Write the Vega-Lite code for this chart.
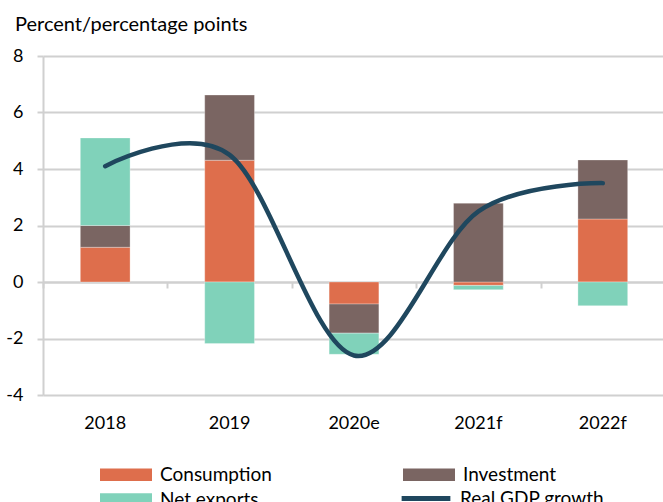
{
  "$schema": "https://vega.github.io/schema/vega-lite/v6.json",
  "width": 622,
  "height": 339,
  "autosize": {"type": "none"},
  "padding": {"left": 43, "top": 56, "right": 0, "bottom": 107},
  "config": {"font": "Lato", "view": {"stroke": null}},
  "title": {"text": "Percent/percentage points", "anchor": "start", "frame": "group", "dx": -28, "offset": 12, "fontSize": 20, "fontWeight": "normal", "color": "#000000"},
  "layer": [
    {
      "data": {"values": [
        {"year": "2018", "series": "Consumption", "value": 1.23},
        {"year": "2018", "series": "Investment", "value": 0.77},
        {"year": "2018", "series": "Net exports", "value": 3.1},
        {"year": "2019", "series": "Consumption", "value": 4.31},
        {"year": "2019", "series": "Investment", "value": 2.31},
        {"year": "2019", "series": "Net exports", "value": -2.18},
        {"year": "2020e", "series": "Consumption", "value": -0.78},
        {"year": "2020e", "series": "Investment", "value": -1.03},
        {"year": "2020e", "series": "Net exports", "value": -0.75},
        {"year": "2021f", "series": "Consumption", "value": -0.12},
        {"year": "2021f", "series": "Investment", "value": 2.79},
        {"year": "2021f", "series": "Net exports", "value": -0.15},
        {"year": "2022f", "series": "Consumption", "value": 2.23},
        {"year": "2022f", "series": "Investment", "value": 2.09},
        {"year": "2022f", "series": "Net exports", "value": -0.84}
      ]},
      "mark": {"type": "bar", "width": {"band": 0.4}, "stroke": "#ffffff", "strokeWidth": 0.6, "strokeOpacity": 0.5},
      "encoding": {
        "x": {"field": "year", "type": "nominal", "sort": null,
          "scale": {"paddingInner": 0, "paddingOuter": 0},
          "axis": {"orient": "bottom", "title": null, "labelAngle": 0, "domain": false, "ticks": false, "grid": false, "labelFontSize": 18, "labelPadding": 19, "labelColor": "#000000"}},
        "y": {"field": "value", "type": "quantitative", "stack": "zero",
          "scale": {"domain": [-4, 8], "nice": false},
          "axis": {"title": null, "values": [-4, -2, 0, 2, 4, 6, 8], "labelExpr": "'' + datum.value", "grid": true, "gridColor": "#D0D0D0", "gridWidth": 2, "domainColor": "#D0D0D0", "domainWidth": 2, "tickColor": "#D0D0D0", "tickWidth": 2, "tickSize": 6, "labelPadding": 14, "labelFontSize": 18, "labelColor": "#000000"}},
        "order": {"field": "series", "type": "nominal", "sort": "ascending"},
        "fill": {"field": "series", "type": "nominal",
          "scale": {"domain": ["Consumption", "Investment", "Net exports"], "range": ["#DE6E4C", "#7A6562", "#80D2BA"]},
          "legend": {"orient": "none", "direction": "horizontal", "legendX": 54, "legendY": 409, "title": null, "columns": 2, "columnPadding": 128, "rowPadding": 5, "symbolType": "M-1,-0.96H7V0.96H-1Z", "symbolSize": 169, "symbolStrokeWidth": 0, "symbolOpacity": 1, "labelFontSize": 19, "labelOffset": 44, "labelColor": "#000000", "labelLimit": 300}}
      }
    },
    {
      "data": {"values": [
        {"year": "2018", "gdp": 4.1},
        {"year": "2019", "gdp": 4.5},
        {"year": "2020e", "gdp": -2.6},
        {"year": "2021f", "gdp": 2.5},
        {"year": "2022f", "gdp": 3.5}
      ]},
      "mark": {"type": "line", "interpolate": "cardinal", "strokeWidth": 4.5, "strokeCap": "round"},
      "encoding": {
        "x": {"field": "year", "type": "nominal", "sort": null,
          "axis": {"orient": "bottom", "offset": -113, "title": null, "labels": false, "grid": false, "domain": true, "domainColor": "#D0D0D0", "domainWidth": 2, "ticks": true, "tickBand": "extent", "tickColor": "#D0D0D0", "tickWidth": 2, "tickSize": 6}},
        "y": {"field": "gdp", "type": "quantitative"},
        "stroke": {"datum": "Real GDP growth",
          "scale": {"domain": ["Real GDP growth"], "range": ["#1F475E"]},
          "legend": {"orient": "none", "direction": "horizontal", "legendX": 354, "legendY": 433, "title": null, "symbolType": "M-0.75,0H6.75", "symbolSize": 169, "symbolStrokeWidth": 5, "symbolOpacity": 1, "labelFontSize": 19, "labelOffset": 44, "labelColor": "#000000", "labelLimit": 300}}
      }
    }
  ],
  "resolve": {"axis": {"x": "independent"}}
}
